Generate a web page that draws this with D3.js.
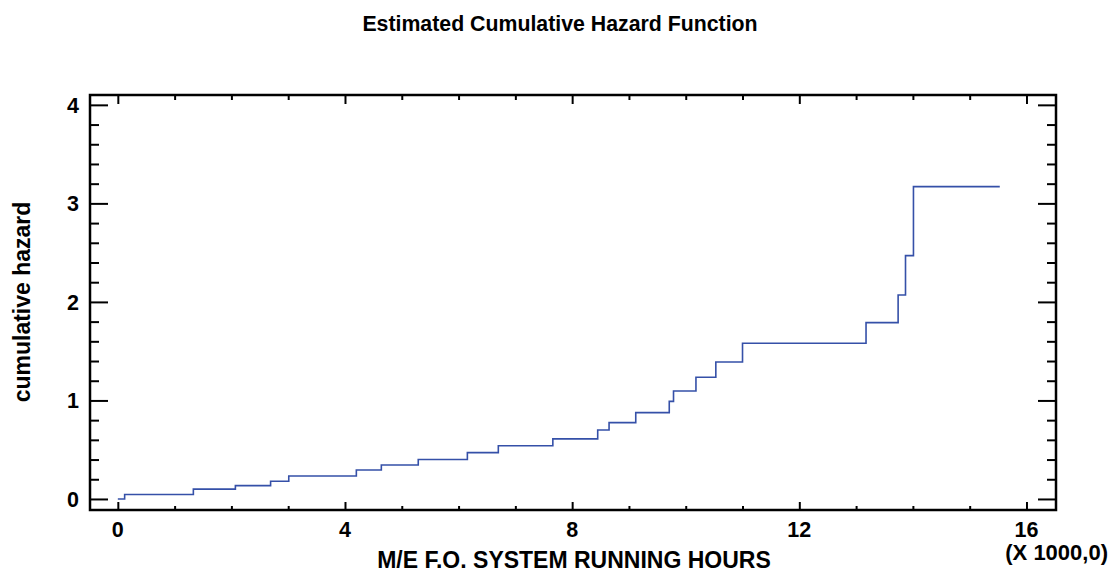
<!DOCTYPE html>
<html>
<head>
<meta charset="utf-8">
<script src="https://cdn.jsdelivr.net/npm/d3@7"></script>
<style>
  body { margin: 0; background: #fff; }
  text { font-family: "Liberation Sans", Arial, sans-serif; font-weight: bold; fill: #000; }
</style>
</head>
<body>
<div id="chart"></div>
<script>
var svgWidth = 1119;
var svgHeight = 574;

// frame of the plot area
var margin = { top: 95, right: 63, bottom: 64, left: 90 };
var width = svgWidth - margin.left - margin.right;
var height = svgHeight - margin.top - margin.bottom;

// step points: running hours and estimated cumulative hazard
var hours  = [0, 120, 1330, 2070, 2690, 3010, 4200, 4640, 5290, 6155, 6700, 7660, 8450, 8650, 9120, 9710, 9785, 10180, 10530, 11000, 13175, 13740, 13870, 14010, 15530];
var hazard = [0, 0.045, 0.10, 0.135, 0.18, 0.233, 0.294, 0.345, 0.40, 0.47, 0.54, 0.61, 0.70, 0.775, 0.876, 0.99, 1.096, 1.235, 1.39, 1.58, 1.79, 2.07, 2.47, 3.17, 3.17];

var xMajor = [0, 4000, 8000, 12000, 16000];
var xMajorLabels = ["0", "4", "8", "12", "16"];
var yMajor = [0, 1, 2, 3, 4];

var svg = d3.select("#chart").append("svg").attr("width", svgWidth).attr("height", svgHeight);
var chartGroup = svg.append("g").attr("transform", `translate(${margin.left}, ${margin.top})`);

var x = d3.scaleLinear().domain([-490, 16520]).range([0, width]);
var y = d3.scaleLinear().domain([-0.112, 4.1]).range([height, 0]);

var xMinor = d3.range(0, 16001, 1000).filter(d => xMajor.indexOf(d) < 0);
var yMinor = d3.range(0, 4.01, 0.2).map(d => +d.toFixed(1)).filter(d => yMajor.indexOf(d) < 0);

function tickAxis(axis, ticks, size) {
    return axis.tickValues(ticks).tickSizeInner(size).tickSizeOuter(0).tickFormat("");
}

// ticks point inside the frame on all four sides
chartGroup.append("g").attr("transform", `translate(0, ${height})`).call(tickAxis(d3.axisTop(x), xMajor, 8));
chartGroup.append("g").attr("transform", `translate(0, ${height})`).call(tickAxis(d3.axisTop(x), xMinor, 4));
chartGroup.append("g").call(tickAxis(d3.axisBottom(x), xMajor, 9));
chartGroup.append("g").call(tickAxis(d3.axisBottom(x), xMinor, 5));
chartGroup.append("g").call(tickAxis(d3.axisRight(y), yMajor, 18));
chartGroup.append("g").call(tickAxis(d3.axisRight(y), yMinor, 9));
chartGroup.append("g").attr("transform", `translate(${width}, 0)`).call(tickAxis(d3.axisLeft(y), yMajor, 18));
chartGroup.append("g").attr("transform", `translate(${width}, 0)`).call(tickAxis(d3.axisLeft(y), yMinor, 9));

chartGroup.selectAll(".domain").remove();
chartGroup.selectAll(".tick line").attr("stroke", "#000").attr("stroke-width", 2);

chartGroup.append("rect")
    .attr("width", width).attr("height", height)
    .attr("fill", "none").attr("stroke", "#000").attr("stroke-width", 2.5);

// tick labels
chartGroup.selectAll(".xlab").data(xMajor).enter().append("text")
    .attr("x", d => x(d)).attr("y", height + 27)
    .attr("text-anchor", "middle").style("font-size", "21.5px")
    .text((d, i) => xMajorLabels[i]);

chartGroup.selectAll(".ylab").data(yMajor).enter().append("text")
    .attr("x", -11).attr("y", d => y(d) + 7.7)
    .attr("text-anchor", "end").style("font-size", "21.5px")
    .text(d => d);

// step line
var line = d3.line().x((d, i) => x(hours[i])).y(d => y(d)).curve(d3.curveStepAfter);
chartGroup.append("path")
    .datum(hazard)
    .attr("d", line)
    .attr("fill", "none")
    .attr("stroke", "#3550a8")
    .attr("stroke-width", 1.6);

// titles
svg.append("text").attr("x", 560).attr("y", 31).attr("text-anchor", "middle")
    .style("font-size", "21.3px").text("Estimated Cumulative Hazard Function");

svg.append("text").attr("x", 574).attr("y", 568).attr("text-anchor", "middle")
    .style("font-size", "23px").text("M/E F.O. SYSTEM RUNNING HOURS");

svg.append("text").attr("x", 1108).attr("y", 560).attr("text-anchor", "end")
    .style("font-size", "22px").text("(X 1000,0)");

svg.append("text").attr("transform", "translate(30, 302) rotate(-90)").attr("text-anchor", "middle")
    .style("font-size", "23px").text("cumulative hazard");
</script>
</body>
</html>
